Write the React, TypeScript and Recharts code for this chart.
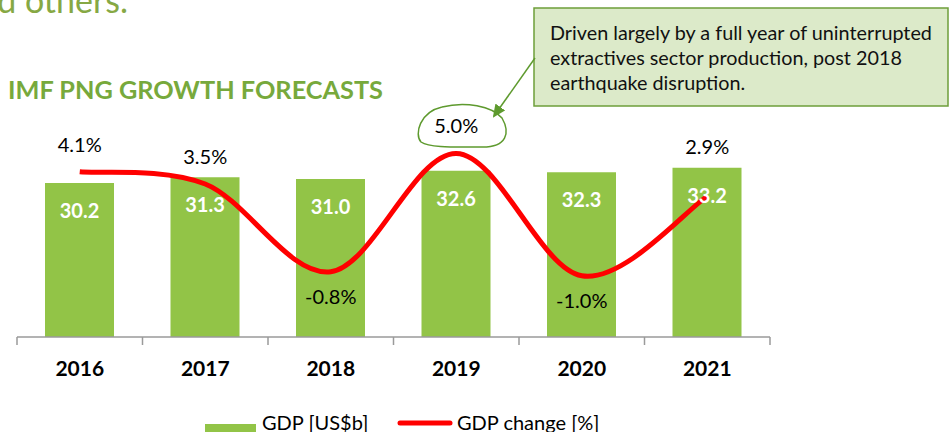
import React from 'react';
import { ComposedChart, Bar, Line, XAxis, YAxis, LabelList, Legend } from 'recharts';

const years = ['2016', '2017', '2018', '2019', '2020', '2021'];
const gdp = [30.2, 31.3, 31.0, 32.6, 32.3, 33.2];
const gdpChange = [4.1, 3.5, -0.8, 5.0, -1.0, 2.9];
const seriesNames = ['GDP [US$b]', 'GDP change [%]'];
const titleText = 'IMF PNG GROWTH FORECASTS';
const headerFragment = 'and others.';
const calloutLines = [
  'Driven largely by a full year of uninterrupted',
  'extractives sector production, post 2018',
  'earthquake disruption.',
];

const data = years.map((y, i) => ({ year: y, gdp: gdp[i], change: gdpChange[i] }));

const FONT = 'Lato, "Open Sans", sans-serif';
const BAR_COLOR = '#92C447';
const LINE_COLOR = '#FF0000';
const AXIS_COLOR = '#9a9a9a';

// Excel-style smoothed line (Catmull-Rom through the points)
const excelSmooth = (context: any) => {
  let pts: number[][] = [];
  return {
    areaStart() {},
    areaEnd() {},
    lineStart() {
      pts = [];
    },
    point(x: number, y: number) {
      pts.push([+x, +y]);
    },
    lineEnd() {
      const n = pts.length;
      if (!n) return;
      context.moveTo(pts[0][0], pts[0][1]);
      for (let i = 0; i < n - 1; i++) {
        const p0 = pts[Math.max(i - 1, 0)];
        const p1 = pts[i];
        const p2 = pts[i + 1];
        const p3 = pts[Math.min(i + 2, n - 1)];
        context.bezierCurveTo(
          p1[0] + (p2[0] - p0[0]) / 6,
          p1[1] + (p2[1] - p0[1]) / 6,
          p2[0] - (p3[0] - p1[0]) / 6,
          p2[1] - (p3[1] - p1[1]) / 6,
          p2[0],
          p2[1]
        );
      }
    },
  };
};

const CustomTick = (props: any) => {
  const { x, y, payload, index, width, visibleTicksCount } = props;
  const band = width / visibleTicksCount;
  const left = x - band / 2;
  return (
    <g>
      <line x1={left} y1={y} x2={left} y2={y + 8} stroke={AXIS_COLOR} strokeWidth={1.5} />
      {index === visibleTicksCount - 1 && (
        <line x1={left + band} y1={y} x2={left + band} y2={y + 8} stroke={AXIS_COLOR} strokeWidth={1.5} />
      )}
      <text x={x} y={y + 39} textAnchor="middle" fontFamily={FONT} fontWeight={700} fontSize={21} fill="#000">
        {payload.value}
      </text>
    </g>
  );
};

const LineLabel = (props: any) => {
  const { x, y, value, index } = props;
  const isLast = index === gdpChange.length - 1;
  const dy = value < 0 ? 24 : isLast ? -50 : -28;
  return (
    <text x={x} y={y + dy} textAnchor="middle" dominantBaseline="central" fontFamily={FONT} fontSize={20} fill="#000">
      {Number(value).toFixed(1)}%
    </text>
  );
};

const BarLabel = (props: any) => {
  const { x, y, width, value } = props;
  return (
    <text x={x + width / 2} y={y + 27} textAnchor="middle" dominantBaseline="central" fontFamily={FONT} fontWeight={700} fontSize={20} fill="#fff">
      {Number(value).toFixed(1)}
    </text>
  );
};

const LegendContent = () => (
  <svg width={950} height={30} style={{ display: 'block' }}>
    <rect x={205} y={22} width={51} height={14} fill={BAR_COLOR} />
    <text x={262} y={28} fontFamily={FONT} fontSize={20} fill="#000">{seriesNames[0]}</text>
    <line x1={400} y1={21} x2={450} y2={21} stroke={LINE_COLOR} strokeWidth={5} strokeLinecap="round" />
    <text x={457} y={28} fontFamily={FONT} fontSize={20} fill="#000">{seriesNames[1]}</text>
  </svg>
);

export default function App() {
  return (
    <div style={{ position: 'absolute', top: 0, left: 0, width: 950, height: 432, background: '#fff', overflow: 'hidden' }}>
      <ComposedChart
        width={950}
        height={432}
        data={data}
        margin={{ top: 133, right: 180, left: 17, bottom: 55 }}
      >
        <XAxis
          dataKey="year"
          height={40}
          tickSize={0}
          tickMargin={0}
          tickLine={false}
          axisLine={{ stroke: AXIS_COLOR, strokeWidth: 1.5 }}
          tick={<CustomTick />}
          interval={0}
        />
        <YAxis yAxisId="left" hide domain={[0, 40]} />
        <YAxis yAxisId="right" hide orientation="right" domain={[-4, 6]} />
        <Legend
          layout="horizontal"
          verticalAlign="middle"
          align="center"
          content={<LegendContent />}
          wrapperStyle={{ position: 'absolute', top: 402, left: 0, width: 950, height: 30 }}
        />
        <Bar yAxisId="left" dataKey="gdp" name={seriesNames[0]} fill={BAR_COLOR} barSize={69} isAnimationActive={false}>
          <LabelList dataKey="gdp" content={<BarLabel />} />
        </Bar>
        <Line
          yAxisId="right"
          dataKey="change"
          name={seriesNames[1]}
          type={excelSmooth as any}
          stroke={LINE_COLOR}
          strokeWidth={5}
          dot={false}
          isAnimationActive={false}
        >
          <LabelList dataKey="change" content={<LineLabel />} />
        </Line>
      </ComposedChart>
      <svg width={950} height={432} style={{ position: 'absolute', top: 0, left: 0, pointerEvents: 'none' }}>
        <defs>
          <marker id="arrowHead" markerWidth="13" markerHeight="12" refX="11" refY="6" orient="auto" markerUnits="userSpaceOnUse">
            <path d="M0,0 L13,6 L0,12 Z" fill="#5E9A2E" />
          </marker>
        </defs>
        <text x={128} y={13} textAnchor="end" fontFamily={FONT} fontSize={34} fill="#86A844">{headerFragment}</text>
        <text x={8} y={99} fontFamily={FONT} fontWeight={700} fontSize={25.3} fill="#77A93C">{titleText}</text>
        <rect x={534} y={8} width={414} height={98} fill="#DCEAC9" stroke="#6E9E3A" strokeWidth={1.5} />
        {calloutLines.map((t, i) => (
          <text key={i} x={550} y={40 + i * 25} fontFamily={FONT} fontSize={19.8} fill="#111">{t}</text>
        ))}
        <line x1={535} y1={58} x2={494} y2={116} stroke="#5E9A2E" strokeWidth={1.5} markerEnd="url(#arrowHead)" />
        <path
          d="M 442 107 C 465 101, 492 106, 502 118 C 510 132, 508 148, 480 147 C 455 147, 430 148, 421 142 C 414 134, 420 112, 442 107 Z"
          fill="none"
          stroke="#5E9A2E"
          strokeWidth={1.5}
        />
      </svg>
    </div>
  );
}
